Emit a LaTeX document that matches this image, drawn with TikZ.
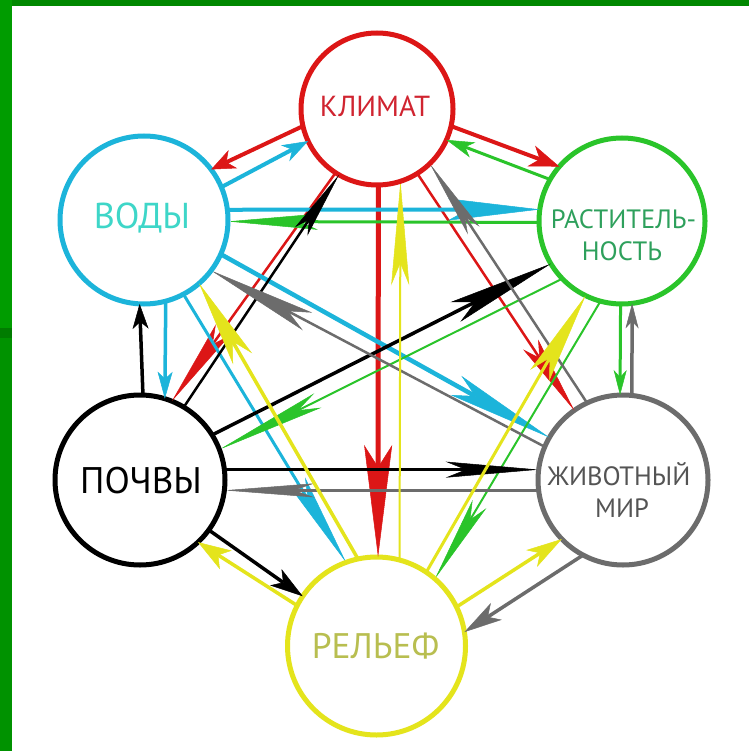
\documentclass[tikz,border=0pt]{standalone}
\usepackage{fontspec}
\setmainfont{PT Sans}
\usetikzlibrary{arrows.meta}

\definecolor{klred}{RGB}{220,22,22}
\definecolor{vcyan}{RGB}{28,180,218}
\definecolor{rgreen}{RGB}{42,196,42}
\definecolor{zgray}{RGB}{108,108,108}
\definecolor{lyellow}{RGB}{228,228,28}
\definecolor{ktext}{RGB}{208,36,48}
\definecolor{vtext}{RGB}{62,214,200}
\definecolor{rtext}{RGB}{46,160,92}
\definecolor{ztext}{RGB}{84,84,84}
\definecolor{ltext}{RGB}{184,190,80}
\definecolor{topband}{RGB}{0,136,0}
\definecolor{sideband}{RGB}{0,156,0}
\definecolor{sideline}{RGB}{0,124,0}
\definecolor{sidelow}{RGB}{0,146,0}

\tikzset{
  ring/.style={circle, draw=#1, line width=5pt, inner sep=0pt, outer sep=0pt},
  word/.style={anchor=base, inner sep=0pt, text=#1},
  ar/.style n args={3}{-{Stealth[length=#1pt,width=#2pt,inset=#3pt,line width=0.5pt]}}
}

\begin{document}
\begin{tikzpicture}[x=1pt, y=-1pt]

    \useasboundingbox (0,0) rectangle (749,751);
    \fill[white] (0,0) rectangle (749,751);
    \fill[topband] (0,0) rectangle (749,6);
    \fill[sideband] (0,0) rectangle (12,328);
    \fill[sideline] (0,328) rectangle (12,338);
    \fill[sidelow] (0,338) rectangle (12,751);

    \node[ring=klred, minimum size=152pt] (klimat) at (377,109) {};
    \node[ring=vcyan, minimum size=168pt] (vody) at (144,220) {};
    \node[ring=rgreen, minimum size=166pt] (rast) at (622,221) {};
    \node[ring=black, minimum size=170pt] (pochvy) at (140,480) {};
    \node[ring=zgray, minimum size=170pt] (zhivot) at (623,480) {};
    \node[ring=lyellow, minimum size=178pt] (relief) at (376.5,646) {};

    \node[word=ktext, font=\fontsize{29}{31}\selectfont] (klimat-t) at (375,117) {КЛИМАТ};
    \node[word=vtext, font=\fontsize{36}{38}\selectfont] (vody-t) at (142,229) {ВОДЫ};
    \node[word=rtext, font=\fontsize{26.5}{28}\selectfont] (rast-t1) at (623.5,228) {РАСТИТЕЛЬ-};
    \node[word=rtext, font=\fontsize{26.5}{28}\selectfont] (rast-t2) at (622,260) {НОСТЬ};
    \node[word=black, font=\fontsize{37}{39}\selectfont] (pochvy-t) at (141,493) {ПОЧВЫ};
    \node[word=ztext, font=\fontsize{26.5}{28}\selectfont] (zhivot-t1) at (619,485) {ЖИВОТНЫЙ};
    \node[word=ztext, font=\fontsize{26.5}{28}\selectfont] (zhivot-t2) at (622,517) {МИР};
    \node[word=ltext, font=\fontsize{35.5}{37}\selectfont] (relief-t) at (375.5,658) {РЕЛЬЕФ};

    \draw[klred, line width=4pt, ar={24}{20}{7}] (klimat.193) -- (vody.37);
    \draw[klred, line width=4pt, ar={30}{22}{9}] (klimat.-13) -- (rast.139);
    \draw[klred, line width=2.5pt, ar={88}{18}{18}] (klimat.237) -- (pochvy.68);
    \draw[klred, line width=5pt, ar={112}{28}{22}] (klimat.-89) -- (relief.89);
    \draw[klred, line width=2.5pt, ar={79}{18}{16}] (klimat.-58) -- (zhivot.125);

    \draw[vcyan, line width=4pt, ar={26}{18}{8}] (vody.23) -- (klimat.205);
    \draw[vcyan, line width=4pt, ar={92}{22}{20}] (vody.7) -- (rast.172);
    \draw[vcyan, line width=3.5pt, ar={27}{15}{7}] (vody.-75) -- (pochvy.73);
    \draw[vcyan, line width=3pt, ar={94}{18}{20}] (vody.-62) -- (relief.110);
    \draw[vcyan, line width=4.5pt, ar={107}{22}{22}] (vody.-24) -- (zhivot.150);

    \draw[rgreen, line width=3pt, ar={28}{16}{8}] (rast.150) -- (klimat.-24);
    \draw[rgreen, line width=3pt, ar={90}{16}{18}] (rast.181) -- (vody.-1);
    \draw[rgreen, line width=2pt, ar={110}{16}{22}] (rast.224) -- (pochvy.21);
    \draw[rgreen, line width=3pt, ar={25}{13}{7}] (rast.-91) -- (zhivot.92);
    \draw[rgreen, line width=2pt, ar={87}{16}{18}] (rast.255) -- (relief.49);

    \draw[black, line width=2.5pt, ar={68}{15}{14}] (pochvy.59) -- (klimat.240);
    \draw[black, line width=3.5pt, ar={25}{16}{7}] (pochvy.88) -- (vody.-93);
    \draw[black, line width=3.5pt, ar={107}{22}{22}] (pochvy.32) -- (rast.211);
    \draw[black, line width=3pt, ar={93}{16}{20}] (pochvy.7) -- (zhivot.173);
    \draw[black, line width=3.5pt, ar={33}{20}{9}] (pochvy.-36) -- (relief.146);

    \draw[zgray, line width=2.5pt, ar={80}{14}{16}] (zhivot.115) -- (klimat.-46);
    \draw[zgray, line width=2.5pt, ar={109}{20}{22}] (zhivot.157) -- (vody.-37);
    \draw[zgray, line width=3.5pt, ar={25}{13}{7}] (zhivot.84) -- (rast.-83);
    \draw[zgray, line width=3pt, ar={90}{14}{20}] (zhivot.187) -- (pochvy.-7);
    \draw[zgray, line width=3.5pt, ar={38}{20}{10}] (zhivot.242) -- (relief.9);

    \draw[lyellow, line width=2pt, ar={104}{18}{22}] (relief.75) -- (klimat.-72);
    \draw[lyellow, line width=3.5pt, ar={87}{22}{20}] (relief.102) -- (vody.-49);
    \draw[lyellow, line width=3pt, ar={92}{22}{20}] (relief.56) -- (rast.244);
    \draw[lyellow, line width=3.5pt, ar={33}{22}{9}] (relief.153) -- (pochvy.-47);
    \draw[lyellow, line width=3.5pt, ar={36}{20}{10}] (relief.26) -- (zhivot.224);

\end{tikzpicture}
\end{document}
